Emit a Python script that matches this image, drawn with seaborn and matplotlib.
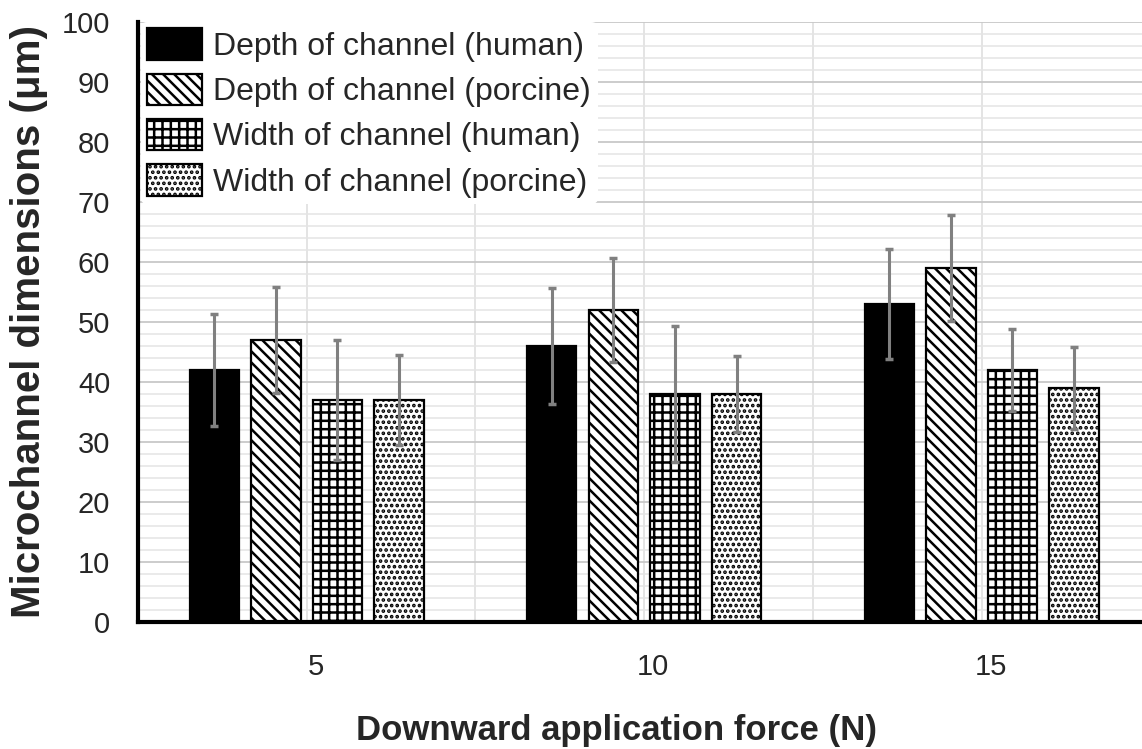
import pandas as pd
import seaborn as sns
import matplotlib.pyplot as plt
import matplotlib.transforms as mtransforms
from matplotlib.ticker import MultipleLocator

forces = ['5', '10', '15']
series = ['Depth of channel (human)', 'Depth of channel (porcine)',
          'Width of channel (human)', 'Width of channel (porcine)']
values = [
    [42, 46, 53],
    [47, 52, 59],
    [37, 38, 42],
    [37, 38, 39],
]
errors = [
    [9.4, 9.6, 9.2],
    [8.8, 8.6, 8.8],
    [10.0, 11.3, 6.9],
    [7.5, 6.3, 6.8],
]
hatches = ['', '\\\\\\', '++', '...']
faces = ['black', 'white', 'white', 'white']

rows = []
for s, vals in zip(series, values):
    for f, v in zip(forces, vals):
        rows.append({'force': f, 'series': s, 'value': v})
data = pd.DataFrame(rows)

sns.set_style('white')
plt.rcParams['font.family'] = ['Liberation Sans', 'DejaVu Sans']
plt.rcParams['hatch.linewidth'] = 1.8

fig = plt.figure(figsize=(11.42, 7.49), dpi=100)
ax = fig.add_axes([0.1208, 0.1696, 0.8792, 0.801])

sns.barplot(data=data, x='force', y='value', hue='series', order=forces,
            hue_order=series, errorbar=None, width=0.73, gap=0.2,
            palette=['black'] * 4, legend=False, ax=ax, zorder=2)

for cont, h, fc, errs in zip(ax.containers, hatches, faces, errors):
    xs, ys = [], []
    for p in cont.patches:
        p.set_facecolor(fc)
        p.set_edgecolor('black')
        p.set_linewidth(1.6)
        p.set_hatch(h)
        xs.append(p.get_x() + p.get_width() / 2)
        ys.append(p.get_height())
    ax.errorbar(xs, ys, yerr=errs, fmt='none', ecolor='#808080',
                elinewidth=2.2, capsize=2.8, capthick=2.5, zorder=3)

ax.set_ylim(0, 100)
ax.set_xlim(-0.5, 2.475)
ax.yaxis.set_major_locator(MultipleLocator(10))
ax.yaxis.set_minor_locator(MultipleLocator(2))
ax.grid(axis='y', which='major', color='#c8c8c8', linewidth=1.3, zorder=0)
ax.grid(axis='y', which='minor', color='#e4e4e4', linewidth=1.1, zorder=0)
for xb in [0, 0.5, 1, 1.5, 2]:
    ax.axvline(xb, color='#e2e2e2', linewidth=1.3, zorder=0)
ax.set_axisbelow(True)

for side in ['top', 'right']:
    ax.spines[side].set_visible(False)
ax.spines['left'].set_linewidth(3)
ax.spines['bottom'].set_linewidth(3)
ax.spines['left'].set_color('black')
ax.spines['bottom'].set_color('black')
ax.tick_params(axis='y', which='both', length=0, labelsize=21, pad=20)
ax.tick_params(axis='x', which='both', length=0, labelsize=21, pad=22)
shift = mtransforms.ScaledTranslation(9 / 100, 0, fig.dpi_scale_trans)
for lab in ax.get_xticklabels():
    lab.set_transform(lab.get_transform() + shift)

ax.set_xlabel('Downward application force (N)', fontsize=25, fontweight='bold')
ax.xaxis.set_label_coords(0.477, -0.153)
ax.set_ylabel('Microchannel dimensions (μm)', fontsize=29, fontweight='bold')
ax.yaxis.set_label_coords(-0.0891, 0.5)

leg = ax.legend(handles=ax.containers, labels=series, loc='upper left',
                bbox_to_anchor=(0.003, 1.0), fontsize=23, frameon=True,
                handlelength=1.7, handleheight=1.15, labelspacing=0.36,
                handletextpad=0.37, borderpad=0.2, borderaxespad=0.0)
leg.get_frame().set_facecolor('white')
leg.get_frame().set_edgecolor('none')
leg.get_frame().set_alpha(1)
leg.set_zorder(5)

fig.savefig('out.png', dpi=100)
